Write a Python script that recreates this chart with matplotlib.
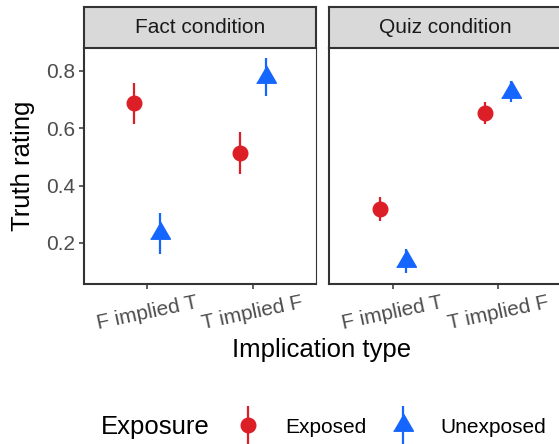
import matplotlib
matplotlib.use('Agg')
import matplotlib.pyplot as plt
import numpy as np
from matplotlib.lines import Line2D
from matplotlib.legend_handler import HandlerTuple

plt.rcParams['font.family'] = ['Liberation Sans', 'DejaVu Sans']

# data
implication = ['F implied T', 'T implied F']
conditions = ['Fact condition', 'Quiz condition']

fact_exposed = [0.687, 0.513]
fact_exposed_lo = [0.615, 0.440]
fact_exposed_hi = [0.759, 0.586]
fact_unexposed = [0.234, 0.778]
fact_unexposed_lo = [0.162, 0.713]
fact_unexposed_hi = [0.305, 0.844]

quiz_exposed = [0.318, 0.654]
quiz_exposed_lo = [0.275, 0.615]
quiz_exposed_hi = [0.360, 0.693]
quiz_unexposed = [0.136, 0.728]
quiz_unexposed_lo = [0.094, 0.690]
quiz_unexposed_hi = [0.178, 0.765]

red = '#DC1F26'
blue = '#1565FF'
dark = '#333333'
tri = [(-1, -0.577), (1, -0.577), (0, 1.155)]

fig = plt.figure(figsize=(5.59, 4.44), dpi=100)

panels = [
    (conditions[0], fact_exposed, fact_exposed_lo, fact_exposed_hi,
     fact_unexposed, fact_unexposed_lo, fact_unexposed_hi, 0.1503),
    (conditions[1], quiz_exposed, quiz_exposed_lo, quiz_exposed_hi,
     quiz_unexposed, quiz_unexposed_lo, quiz_unexposed_hi, 0.5894),
]

x = np.arange(len(implication))
dodge = 0.125

for i, (title, ex, exlo, exhi, un, unlo, unhi, left) in enumerate(panels):
    ax = fig.add_axes([left, 0.3604, 0.415, 0.5322])
    ex = np.array(ex)
    un = np.array(un)
    ax.errorbar(x - dodge, ex, yerr=[ex - np.array(exlo), np.array(exhi) - ex],
                fmt='o', color=red, ms=10.5, elinewidth=1.6, capsize=0)
    ax.errorbar(x + dodge, un, yerr=[un - np.array(unlo), np.array(unhi) - un],
                fmt='none', ecolor=blue, elinewidth=1.6, capsize=0)
    ax.plot(x + dodge, un, ls='', marker=tri, ms=16.5, color=blue)
    ax.set_xlim(-0.6, 1.6)
    ax.set_ylim(0.057, 0.881)
    ax.set_xticks(x)
    ax.set_xticklabels(implication, rotation=12, ha='center')
    ax.set_yticks([0.2, 0.4, 0.6, 0.8])
    ax.tick_params(colors=dark, labelcolor='#4D4D4D', labelsize=15,
                   length=3.6, width=1.1, pad=3)
    if i == 0:
        ax.set_yticklabels(['0.2', '0.4', '0.6', '0.8'])
    else:
        ax.tick_params(axis='y', left=False, labelleft=False)
    ax.spines['top'].set_visible(False)
    ax.spines['left'].set_linewidth(1.5)
    ax.spines['bottom'].set_linewidth(1.5)
    ax.spines['right'].set_linewidth(0.8)
    for s in ax.spines.values():
        s.set_color(dark)

    # facet strip
    sax = fig.add_axes([left, 0.8926, 0.415, 0.0917])
    sax.set_facecolor('#D9D9D9')
    sax.set_xticks([])
    sax.set_yticks([])
    for s in sax.spines.values():
        s.set_color(dark)
        s.set_linewidth(1.5)
    sax.text(0.5, 0.5, title, ha='center', va='center', fontsize=15,
             color='#1A1A1A', transform=sax.transAxes)

fig.text(23 / 559, 1 - 166 / 444, 'Truth rating', rotation=90, ha='center',
         va='center', fontsize=18.5)
fig.text(321.5 / 559, 1 - 350 / 444, 'Implication type', ha='center',
         va='center', fontsize=18.5)

fig.text(101 / 559, 1 - 427 / 444, 'Exposure', ha='left', va='center',
         fontsize=18.5)
h_ex = (Line2D([], [], ls='', marker='|', ms=27, mew=1.6, color=red),
        Line2D([], [], ls='', marker='o', ms=10.5, color=red))
h_un = (Line2D([], [], ls='', marker='|', ms=27, mew=1.6, color=blue),
        Line2D([], [], ls='', marker=tri, ms=16.5, color=blue))
fig.legend([h_ex, h_un], ['Exposed', 'Unexposed'],
           handler_map={tuple: HandlerTuple(ndivide=1)},
           loc='center left', bbox_to_anchor=(237.6 / 559, 1 - 427 / 444),
           ncol=2, frameon=False, fontsize=15, borderpad=0, borderaxespad=0,
           handlelength=1.0, handletextpad=1.28, columnspacing=1.28)

fig.savefig('out.png', dpi=100)
